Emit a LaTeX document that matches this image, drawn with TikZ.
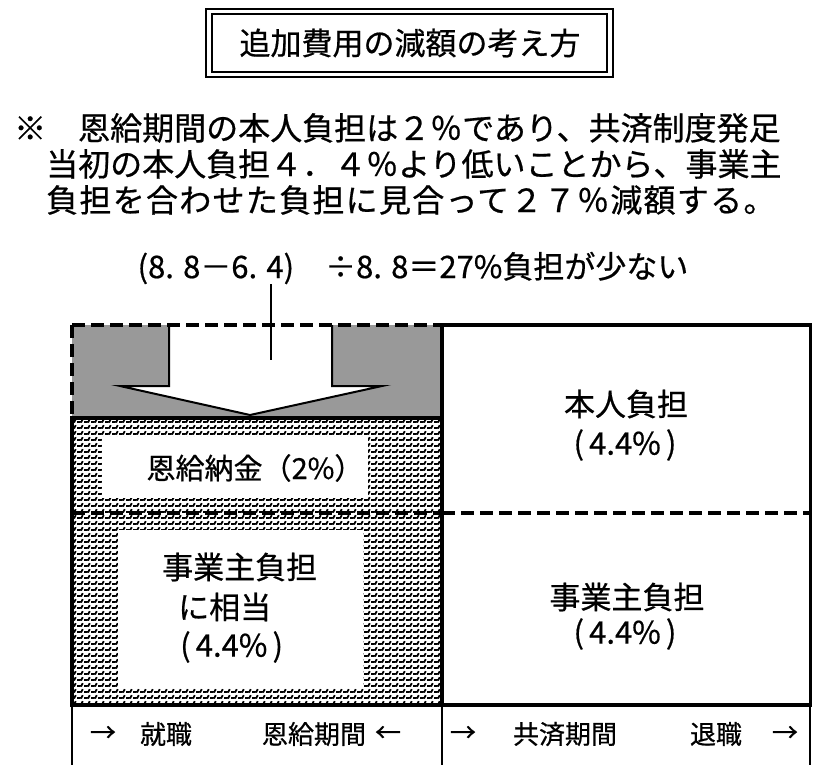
\documentclass[tikz,border=0pt]{standalone}
\usepackage{fontspec}
\setmainfont{Noto Sans CJK JP}[FakeBold=0.6]
\usetikzlibrary{patterns}
\pgfdeclarepatternformonly{texture}{\pgfqpoint{-1pt}{-1pt}}{\pgfqpoint{8pt}{7pt}}{\pgfqpoint{7pt}{6pt}}{%
  \pgfsetlinewidth{1.8pt}%
  \pgfpathmoveto{\pgfqpoint{0pt}{1pt}}\pgfpathlineto{\pgfqpoint{3.5pt}{1pt}}%
  \pgfpathmoveto{\pgfqpoint{4pt}{0.5pt}}\pgfpathlineto{\pgfqpoint{5.8pt}{3.8pt}}%
  \pgfusepath{stroke}}
\tikzset{
  bline/.style={line width=3.5pt},
  dline/.style={line width=3.5pt, dash pattern=on 13pt off 6pt},
  tline/.style={line width=1.5pt},
  big/.style={font=\fontsize{31}{37}\selectfont},
  note/.style={font=\fontsize{32}{38}\selectfont, anchor=west},
  small/.style={font=\fontsize{26}{30}\selectfont},
  mid/.style={font=\fontsize{29}{34}\selectfont}
}
\begin{document}
\begin{tikzpicture}[x=1pt,y=-1pt,every node/.style={inner sep=0pt}]
\useasboundingbox (0,0) rectangle (825,765);
% title
\node[big] (title) at (410,43) {追加費用の減額の考え方};
\draw[line width=1.5pt] (206,9) rectangle (613,77);
\draw[line width=2.5pt] (212,14) rectangle (607,72);
% note
\node[note] (n1) at (14,128) {※　恩給期間の本人負担は２％であり、共済制度発足};
\node[note] (n2) at (46,164) {当初の本人負担４．４％より低いことから、事業主};
\node[note] (n3) at (46,200) {\addfontfeature{LetterSpace=4}負担を合わせた負担に見合って２７％減額する。};
% formula
\node[big] (formula) at (413,268) {(8. 8－6. 4)　÷8. 8＝27\%負担が少ない};
% fills
\fill[black!40] (72,325) rectangle (442,418);
\fill[pattern=texture] (72,418) rectangle (442,705);
\fill[white] (102,437) rectangle (368,498);
\fill[white] (118,530) rectangle (363,688);
% arrow
\draw[line width=2pt, fill=white, line join=miter] (169,325) -- (169,386) -- (120,386) -- (250,415) -- (382,386) -- (332,386) -- (332,325);
\coordinate (lineend) at (271,360);
\draw[line width=2pt] (lineend |- formula.south) -- (lineend);
% borders
\draw[dline] (72,325) -- (442,325);
\draw[dline] (72,325) -- (72,418);
\draw[bline] (72,418) -- (442,418);
\draw[bline] (72,416) -- (72,707);
\draw[dline] (72,513) -- (442,513);
\draw[dline] (442,513) -- (810,513);
\draw[bline] (442,323) -- (442,707);
\draw[bline] (440,325) -- (810,325);
\draw[line width=3pt] (810,323) -- (810,707);
\draw[bline] (70,705) -- (812,705);
\draw[tline] (72,705) -- (72,765);
\draw[tline] (442,705) -- (442,765);
\draw[tline] (810,705) -- (810,765);
% cell texts
\node[mid] (onkyu) at (255,468) {恩給納金（2\%）};
\node[big,anchor=west] (jg1) at (162,567) {事業主負担};
\node[big,anchor=west] (jg2) at (178,607) {に相当};
\node[big,anchor=west] (jg3) at (180,647) {(\,4.4\%\,)};
\node[big] (hn1) at (626,404) {本人負担};
\node[big] (hn2) at (625,445) {(\,4.4\%\,)};
\node[big] (jr1) at (627,597) {事業主負担};
\node[big] (jr2) at (625,634) {(\,4.4\%\,)};
% bottom row
\node[small] (b1) at (103,734) {→};
\node[small] (b2) at (166,734) {就職};
\node[small] (b3) at (314,734) {恩給期間};
\node[small] (b4) at (388,734) {←};
\node[small] (b5) at (463,734) {→};
\node[small] (b6) at (565,734) {共済期間};
\node[small] (b7) at (716,734) {退職};
\node[small] (b8) at (785,734) {→};
\end{tikzpicture}
\end{document}
